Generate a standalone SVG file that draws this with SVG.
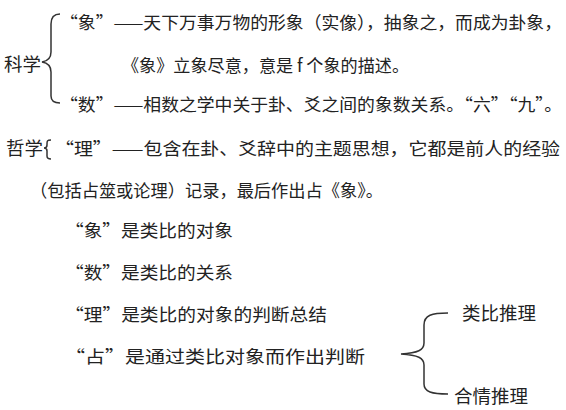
<svg xmlns="http://www.w3.org/2000/svg" width="566" height="410" viewBox="0 0 566 410">
<style>
text{font-family:"Noto Sans CJK SC","Noto Sans CJK JP",sans-serif;font-size:17.5px;fill:#222;}
.big{font-size:18.5px;}
.br{fill:none;stroke:#333;stroke-width:1.5;}
</style>
<rect width="566" height="410" fill="#fff"/>
<g id="kexue"><text class="big" x="4" y="71">科学</text></g>
<g id="xiang"><text x="60" y="29" textLength="502" lengthAdjust="spacingAndGlyphs">“象”——天下万事万物的形象（实像），抽象之，而成为卦象，</text>
<text x="122" y="72" textLength="287" lengthAdjust="spacingAndGlyphs">《象》立象尽意，意是 f 个象的描述。</text></g>
<g id="shu"><text x="60" y="111" textLength="502" lengthAdjust="spacingAndGlyphs">“数”——相数之学中关于卦、爻之间的象数关系。“六”“九”。</text></g>
<g id="zhexue"><text class="big" x="6" y="155">哲学</text></g>
<g id="li"><text x="55" y="155" textLength="505" lengthAdjust="spacingAndGlyphs">“理”——包含在卦、爻辞中的主题思想，它都是前人的经验</text>
<text x="30" y="197" textLength="353" lengthAdjust="spacingAndGlyphs">（包括占筮或论理）记录，最后作出占《象》。</text></g>
<g id="l1"><text x="65" y="237" textLength="168" lengthAdjust="spacingAndGlyphs">“象”是类比的对象</text></g>
<g id="l2"><text x="65" y="279" textLength="168" lengthAdjust="spacingAndGlyphs">“数”是类比的关系</text></g>
<g id="l3"><text x="65" y="321" textLength="262" lengthAdjust="spacingAndGlyphs">“理”是类比的对象的判断总结</text></g>
<g id="l4"><text x="65" y="363" textLength="300" lengthAdjust="spacingAndGlyphs">“占”是通过类比对象而作出判断</text></g>
<g id="leibi"><text class="big" x="462" y="320">类比推理</text></g>
<g id="heqing"><text class="big" x="454" y="403">合情推理</text></g>
<g id="connectors">
<path class="br" d="M60,14 C53,14 51,18 51,24 L51,52 C51,58 48,61 42,62 C48,63 51,66 51,72 L51,96 C51,101 54,103 60,103"/>
<path class="br" d="M51,140 C47,140 47,141 47,144 L47,145 C47,147 46,148 44,148 C46,148 47,149 47,151 L47,156 C47,158 48,159 51,159"/>
<path class="br" d="M448,313 C432,313 424,315 424,325 L424,343 C424,350 418,353 401,354 C418,355 424,358 424,365 L424,384 C424,392 432,394 448,394"/>
</g>
</svg>
